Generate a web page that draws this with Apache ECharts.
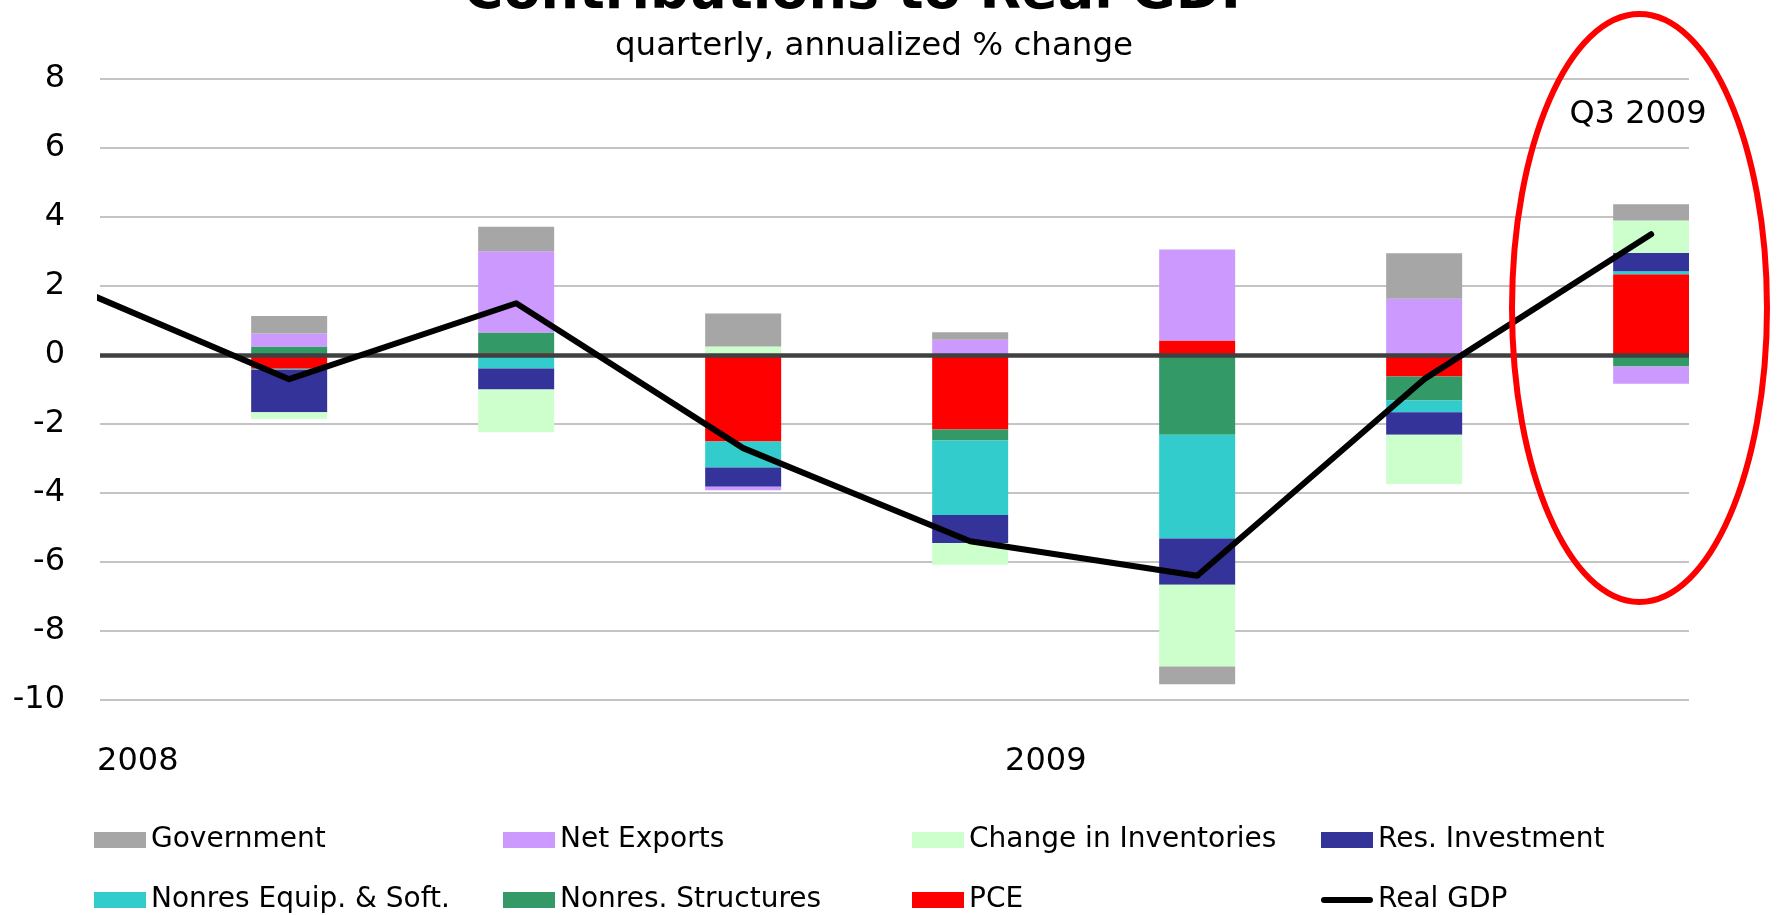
<!DOCTYPE html>
<html>
<head>
<meta charset="utf-8">
<title>Contributions to Real GDP</title>
<script src="https://cdn.jsdelivr.net/npm/echarts@6/dist/echarts.min.js"></script>
<style>
  html, body { margin: 0; padding: 0; background: #fff; }
  #chart { width: 1779px; height: 915px; }
</style>
</head>
<body>
<div id="chart"></div>
<script>
// Quarter-end months of the stacked contributions (percentage points, annualized)
const quarters = ['2008-03', '2008-06', '2008-09', '2008-12', '2009-03', '2009-06', '2009-09'];

const pce          = [-0.40,  0.05, -2.51, -2.16,  0.42, -0.62,  2.34];
const nonresStruct = [ 0.25,  0.60,  0.00, -0.32, -2.31, -0.70, -0.33];
const nonresEquip  = [-0.03, -0.39, -0.75, -2.16, -3.01, -0.34,  0.09];
const resInvest    = [-1.23, -0.61, -0.56, -0.81, -1.34, -0.65,  0.53];
const inventories  = [-0.19, -1.24,  0.25, -0.63, -2.37, -1.43,  0.94];
const netExports   = [ 0.37,  2.36, -0.10,  0.44,  2.64,  1.63, -0.50];
const government   = [ 0.51,  0.71,  0.95,  0.22, -0.51,  1.32,  0.47];

// Real GDP growth, including the quarter before the window (clipped at the plot edge)
const gdpQuarters = ['2007-12', '2008-03', '2008-06', '2008-09', '2008-12', '2009-03', '2009-06', '2009-09'];
const realGDP     = [2.1, -0.7, 1.5, -2.7, -5.4, -6.4, -0.7, 3.5];

const yearLabels = ['2008', '2009'];
const yTicks = [-10, -8, -6, -4, -2, 0, 2, 4, 6, 8];

const FONT = 'DejaVu Sans';

// Monthly date axis from Jan 2008 through Sep 2009
const months = [];
for (let y = 2008; y <= 2009; y++) {
  for (let m = 1; m <= 12; m++) {
    const key = y + '-' + String(m).padStart(2, '0');
    months.push(key);
    if (key === quarters[quarters.length - 1]) break;
  }
}

// Position of a month on the continuous axis used by the line (slot middle)
function slot(ym) {
  const [y, m] = ym.split('-').map(Number);
  return (y - 2008) * 12 + (m - 1) + 0.5;
}

const stackSeries = [
  { name: 'PCE',                   data: pce,          color: '#ff0000' },
  { name: 'Nonres. Structures',    data: nonresStruct, color: '#339966' },
  { name: 'Nonres Equip. & Soft.', data: nonresEquip,  color: '#33cccc' },
  { name: 'Res. Investment',       data: resInvest,    color: '#333399' },
  { name: 'Change in Inventories', data: inventories,  color: '#ccffcc' },
  { name: 'Net Exports',           data: netExports,   color: '#cc99ff' },
  { name: 'Government',            data: government,   color: '#a6a6a6' }
];

const legendOrder = ['Government', 'Net Exports', 'Change in Inventories', 'Res. Investment',
                     'Nonres Equip. & Soft.', 'Nonres. Structures', 'PCE', 'Real GDP'];

const series = stackSeries.map((s, i) => ({
  name: s.name,
  type: 'bar',
  stack: 'contrib',
  barWidth: 76,
  itemStyle: { color: s.color },
  data: months.map(m => {
    const k = quarters.indexOf(m);
    return k >= 0 ? s.data[k] : '-';
  }),
  markLine: i === stackSeries.length - 1 ? {
    silent: true,
    symbol: 'none',
    label: { show: false },
    lineStyle: { color: '#404040', width: 4.5, type: 'solid' },
    data: [{ yAxis: 0 }]
  } : undefined
}));

series.push({
  name: 'Real GDP',
  type: 'line',
  xAxisIndex: 1,
  z: 6,
  symbol: 'none',
  clip: true,
  lineStyle: { color: '#000', width: 6, cap: 'round', join: 'round' },
  itemStyle: { color: '#000' },
  data: realGDP.map((v, k) => [slot(gdpQuarters[k]), v])
});

const chart = echarts.init(document.getElementById('chart'), null, { renderer: 'canvas' });

chart.setOption({
  animation: false,
  backgroundColor: '#fff',
  grid: { left: 100, right: 90, top: 79, height: 621, containLabel: false, outerBoundsMode: 'none' },
  xAxis: [
    {
      type: 'category',
      data: months,
      boundaryGap: true,
      splitLine: { show: false },
      axisLine: { show: false },
      axisTick: { show: false },
      axisLabel: {
        interval: (idx, val) => val.endsWith('-01'),
        formatter: val => val.slice(0, 4),
        fontFamily: FONT, fontSize: 32, color: '#000', margin: 46
      }
    },
    {
      type: 'value',
      min: 0,
      max: months.length,
      show: false
    }
  ],
  yAxis: {
    type: 'value',
    min: yTicks[0],
    max: yTicks[yTicks.length - 1],
    interval: 2,
    axisLine: { show: false },
    axisTick: { show: false },
    splitLine: { lineStyle: { color: '#c4c4c4', width: 2 } },
    axisLabel: { fontFamily: FONT, fontSize: 32, color: '#000', margin: 35 }
  },
  legend: {
    left: 89,
    top: 805,
    width: 1660,
    itemWidth: 52,
    itemHeight: 16,
    itemGap: 0,
    selectedMode: false,
    textStyle: { fontFamily: FONT, fontSize: 28, color: '#000', width: 352, lineHeight: 60 },
    data: legendOrder.map(n => n === 'Real GDP'
      ? { name: n, icon: 'path://M3,0 L49,0 A3,3 0 0 1 49,6 L3,6 A3,3 0 0 1 3,0 Z' }
      : { name: n, icon: 'rect' })
  },
  graphic: [
    {
      type: 'text', x: 862, y: -6, z: 10,
      style: { text: 'Contributions to Real GDP', fontFamily: FONT, fontWeight: 'bold', fontSize: 54,
               fill: '#000', align: 'center', verticalAlign: 'middle' }
    },
    {
      type: 'text', x: 874, y: 46.5, z: 10,
      style: { text: 'quarterly, annualized % change', fontFamily: FONT, fontSize: 32.5,
               fill: '#000', align: 'center', verticalAlign: 'middle' }
    },
    {
      type: 'text', x: 1638, y: 115, z: 10,
      style: { text: 'Q3 2009', fontFamily: FONT, fontSize: 32,
               fill: '#000', align: 'center', verticalAlign: 'middle' }
    },
    {
      type: 'ellipse', z: 10, silent: true,
      shape: { cx: 1639.5, cy: 308, rx: 127.5, ry: 294 },
      style: { fill: 'none', stroke: '#ff0000', lineWidth: 6 }
    }
  ],
  series: series
});
</script>
</body>
</html>
